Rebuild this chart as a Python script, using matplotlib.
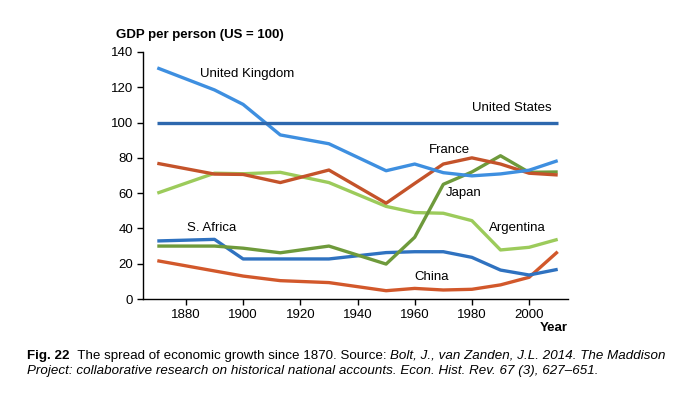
import matplotlib
matplotlib.use("Agg")
import matplotlib.pyplot as plt

plt.rcParams['font.family'] = ['Liberation Sans', 'DejaVu Sans']

years = [1870, 1890, 1900, 1913, 1930, 1950, 1960, 1970, 1980, 1990, 2000, 2010]
us = [100, 100, 100, 100, 100, 100, 100, 100, 100, 100, 100, 100]
uk = [131, 118.5, 110.3, 93, 88, 72.7, 76.5, 71.6, 69.8, 70.9, 73, 78.4]
france = [76.9, 70.8, 70.6, 66, 73.1, 54.3, 65.5, 76.5, 80, 76.5, 71.3, 70.3]
japan = [30, 30, 28.8, 26.2, 30, 19.8, 35, 65, 72, 81.2, 71.8, 72]
argentina = [60, 71.3, 71, 71.8, 66, 52.5, 49, 48.6, 44.4, 27.8, 29.3, 33.8]
s_africa = [32.9, 33.8, 22.7, 22.7, 22.7, 26.3, 26.8, 26.8, 23.6, 16.4, 13.6, 16.8]
china = [21.7, 15.9, 13, 10.4, 9.3, 4.7, 6, 5.1, 5.5, 8, 12.3, 26.8]

fig = plt.figure(figsize=(7, 3.93), dpi=100)
ax = fig.add_axes([143/700, 1-299/393, 425/700, 247/393])

lw = 2.4
ax.plot(years, china, color='#D2582B', lw=lw, solid_capstyle='butt')
ax.plot(years, s_africa, color='#2F72C0', lw=lw, solid_capstyle='butt')
ax.plot(years, argentina, color='#9CCB5B', lw=lw, solid_capstyle='butt')
ax.plot(years, japan, color='#6E9A3B', lw=lw, solid_capstyle='butt')
ax.plot(years, france, color='#C4532A', lw=lw, solid_capstyle='butt')
ax.plot(years, uk, color='#3E8FE0', lw=lw, solid_capstyle='butt')
ax.plot(years, us, color='#2D68AE', lw=lw, solid_capstyle='butt')

ax.set_xlim(1865, 2013.6)
ax.set_ylim(0, 140)
ax.set_xticks([1880, 1900, 1920, 1940, 1960, 1980, 2000])
ax.set_yticks([0, 20, 40, 60, 80, 100, 120, 140])
for s in ['top', 'right']:
    ax.spines[s].set_visible(False)
for s in ['left', 'bottom']:
    ax.spines[s].set_linewidth(1.0)
ax.tick_params(direction='out', length=4, width=1, labelsize=9.5, pad=3)

lab = dict(fontsize=9.5, va='center')
ax.text(1885, 127.5, 'United Kingdom', ha='left', **lab)
ax.text(2008, 108.3, 'United States', ha='right', **lab)
ax.text(1965, 84.5, 'France', ha='left', **lab)
ax.text(1971, 60, 'Japan', ha='left', **lab)
ax.text(1986, 40, 'Argentina', ha='left', **lab)
ax.text(1880.5, 40, 'S. Africa', ha='left', **lab)
ax.text(1960, 12.5, 'China', ha='left', **lab)

fig.text(116/700, 1-35/393, 'GDP per person (US = 100)', fontsize=9.5,
         fontweight='bold', va='center', ha='left')
fig.text(568/700, 1-328/393, 'Year', fontsize=9.5, fontweight='bold',
         va='center', ha='right')

# caption pieces chained left to right on a common baseline
pieces = [('Fig. 22', 'bold', 'normal'),
          ('  The spread of economic growth since 1870. Source: ', 'normal', 'normal'),
          ('Bolt, J., van Zanden, J.L. 2014. The Maddison', 'normal', 'italic')]
renderer = fig.canvas.get_renderer()
x0 = 27/700
for txt, w, st in pieces:
    t = fig.text(x0, 1-359/393, txt, fontsize=9.6, fontweight=w, style=st,
                 va='baseline', ha='left')
    bb = t.get_window_extent(renderer)
    x0 = bb.x1 / fig.bbox.width
fig.text(27/700, 1-374/393,
         'Project: collaborative research on historical national accounts. '
         'Econ. Hist. Rev. 67 (3), 627\u2013651.',
         fontsize=9.6, style='italic', va='baseline', ha='left')

fig.savefig('out.png', dpi=100)
